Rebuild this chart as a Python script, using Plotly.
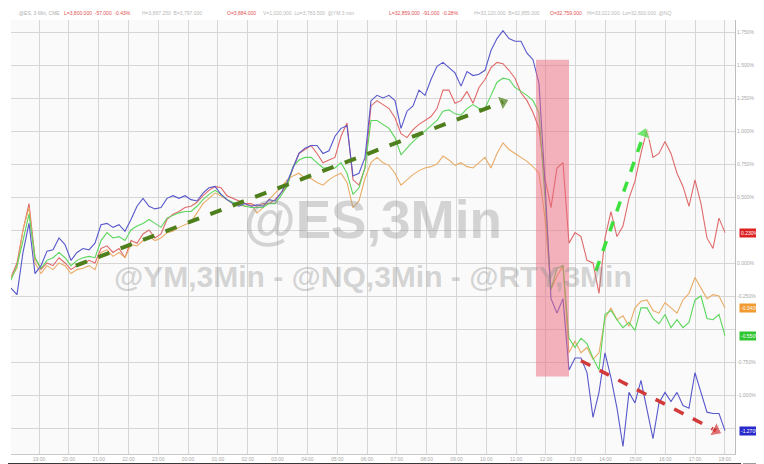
import plotly.graph_objects as go

# ---- data (percent change, 3-min bars) ----
blue = [-0.19,-0.24,0.08,0.30,-0.08,-0.02,0.09,0.10,0.19,0.14,0.02,0.08,0.11,0.10,0.15,0.29,0.30,0.27,0.29,0.24,
        0.33,0.43,0.49,0.43,0.41,0.42,0.49,0.51,0.49,0.51,0.48,0.47,0.53,0.57,0.58,0.52,0.48,0.45,0.43,0.45,
        0.43,0.44,0.43,0.48,0.47,0.53,0.61,0.72,0.83,0.87,0.89,0.89,0.83,0.85,0.96,1.02,1.04,0.66,0.68,0.80,
        1.23,1.27,1.25,1.27,1.23,1.02,1.15,1.19,1.31,1.27,1.39,1.49,1.52,1.48,1.44,1.34,1.45,1.42,1.43,1.46,
        1.61,1.70,1.76,1.70,1.68,1.68,1.59,1.54,1.36,0.61,-0.27,-0.38,-0.27,-0.81,-0.72,-0.72,-0.83,-1.17,-0.98,-0.68,
        -0.87,-1.10,-1.39,-0.98,-1.06,-0.89,-1.10,-1.33,-1.06,-0.98,-1.05,-0.98,-1.08,-1.10,-0.83,-0.98,-1.13,-1.14,-1.14,-1.27]
red = [-0.11,0.00,0.25,0.45,0.04,-0.05,0.00,-0.02,0.04,0.00,-0.05,-0.02,-0.01,0.02,0.00,0.11,0.13,0.08,0.11,0.04,
       0.17,0.15,0.22,0.25,0.19,0.22,0.33,0.37,0.39,0.42,0.43,0.46,0.51,0.55,0.58,0.57,0.51,0.49,0.47,0.45,
       0.45,0.43,0.45,0.45,0.48,0.53,0.58,0.72,0.83,0.86,0.89,0.83,0.76,0.78,0.80,0.96,1.06,0.63,0.59,0.72,
       1.19,1.23,1.20,1.17,1.10,0.98,0.95,1.01,1.05,1.08,1.11,1.17,1.31,1.31,1.21,1.23,1.30,1.21,1.33,1.39,
       1.48,1.52,1.51,1.46,1.40,1.29,1.23,1.14,1.02,0.64,0.42,0.72,0.76,0.15,0.23,0.20,0.02,0.00,-0.23,0.19,
       0.39,0.20,0.28,0.49,0.62,0.83,1.01,0.80,0.83,0.92,0.83,0.68,0.58,0.43,0.63,0.45,0.19,0.11,0.34,0.23]
green = [-0.13,-0.02,0.17,0.37,0.04,-0.04,0.02,0.04,0.08,0.04,-0.02,0.02,0.04,0.05,0.04,0.17,0.23,0.19,0.20,0.17,
         0.25,0.28,0.30,0.33,0.30,0.27,0.34,0.36,0.38,0.39,0.39,0.43,0.48,0.52,0.55,0.52,0.48,0.46,0.45,0.43,
         0.42,0.42,0.42,0.45,0.45,0.51,0.58,0.73,0.78,0.80,0.80,0.76,0.72,0.72,0.72,0.76,0.68,0.52,0.57,0.72,
         1.08,1.08,1.05,1.02,0.95,0.82,0.87,0.92,0.96,1.00,1.04,1.08,1.15,1.16,1.13,1.12,1.17,1.20,1.17,1.17,
         1.27,1.37,1.40,1.39,1.33,1.30,1.27,1.23,1.14,0.49,-0.20,-0.04,-0.02,-0.57,-0.64,-0.57,-0.61,-0.72,-0.81,-0.39,
         -0.36,-0.43,-0.49,-0.45,-0.51,-0.34,-0.34,-0.42,-0.46,-0.39,-0.49,-0.43,-0.49,-0.45,-0.28,-0.25,-0.42,-0.43,-0.39,-0.55]
orange = [-0.11,-0.04,0.25,0.42,0.00,-0.08,-0.02,-0.05,0.00,-0.02,-0.08,-0.05,-0.04,-0.02,-0.05,0.08,0.10,0.05,0.08,0.04,
          0.14,0.13,0.17,0.20,0.17,0.19,0.23,0.24,0.27,0.29,0.31,0.38,0.45,0.49,0.53,0.51,0.48,0.45,0.44,0.43,
          0.44,0.38,0.42,0.48,0.53,0.57,0.63,0.66,0.68,0.64,0.64,0.61,0.59,0.63,0.66,0.68,0.61,0.42,0.47,0.64,
          0.76,0.80,0.76,0.74,0.68,0.59,0.63,0.67,0.70,0.72,0.73,0.75,0.81,0.78,0.74,0.76,0.73,0.72,0.76,0.80,
          0.72,0.83,0.91,0.86,0.83,0.80,0.77,0.73,0.68,0.34,-0.20,-0.10,-0.02,-0.68,-0.59,-0.68,-0.64,-0.73,-0.68,-0.42,
          -0.34,-0.43,-0.40,-0.48,-0.34,-0.29,-0.28,-0.36,-0.38,-0.30,-0.34,-0.38,-0.28,-0.23,-0.11,-0.19,-0.27,-0.24,-0.25,-0.34]

time_labels = ["19:00","20:00","21:00","22:00","23:00","00:00","01:00","02:00","03:00","04:00","05:00","06:00",
               "07:00","08:00","09:00","10:00","11:00","12:00","13:00","14:00","15:00","16:00","17:00","18:00"]

y_ticks = [-1.25, -1.0, -0.75, -0.5, -0.25, 0.0, 0.25, 0.5, 0.75, 1.0, 1.25, 1.5, 1.75]
y_ticks_hidden = [-1.25, -0.5, 0.25]   # covered by the last-value badges

series_names = ["@RTY", "@YM", "@ES", "@NQ"]
series_colors = ["#e06a6a", "#e9ac68", "#5cd65c", "#5858cc"]
badge_colors = ["#dd2222", "#f09a30", "#2ec52e", "#2a2acc"]

# trend arrows (bar index, percent)
arrow_up_long = ([10.8, 82.0], [-0.02, 1.22])
arrow_up_short = ([97.5, 105.5], [-0.06, 0.98])
arrow_down = ([95.0, 117.5], [-0.74, -1.27])

# highlighted crash window (bar index / percent)
band_x = [87.5, 93.0]
band_y = [-0.86, 1.54]

header_parts = [
    ("@ES, 3 Min, CME", "#b0b0b0", 0.008),
    ("L=3,800.000  -57.000  -0.43%", "#e05050", 0.07),
    ("H=3,897.250  B=3,797.000", "#b8b8b8", 0.178),
    ("O=3,884.000", "#e05050", 0.295),
    ("V=1,020,000  Lo=3,783.500  @YM 3 min", "#b8b8b8", 0.345),
    ("L=32,859.000  -91.000  -0.28%", "#e05050", 0.52),
    ("H=33,120.000  B=32,855.000", "#b8b8b8", 0.637),
    ("O=32,759.000", "#e05050", 0.742),
    ("Hi=33,022.000  Lo=32,600.000  @NQ", "#b8b8b8", 0.793),
]

x = list(range(len(blue)))
fig = go.Figure()

for vals, name, col in zip([red, orange, green, blue], series_names, series_colors):
    fig.add_trace(go.Scatter(x=x, y=vals, mode="lines", name=name,
                             line=dict(color=col, width=1.1), hoverinfo="skip"))

for (ax_, ay_), col, w in [(arrow_up_long, "#4f7f1c", 4), (arrow_up_short, "#3ee03e", 3.5), (arrow_down, "#d23a3a", 3.5)]:
    fig.add_trace(go.Scatter(x=ax_, y=ay_, mode="lines+markers",
                             line=dict(color=col, width=w, dash="dash"),
                             marker=dict(symbol=["circle", "triangle-up"], size=[0, 13], color=col,
                                         angleref="previous"),
                             hoverinfo="skip", showlegend=False))

fig.add_shape(type="rect", xref="x", yref="y", x0=band_x[0], x1=band_x[1], y0=band_y[0], y1=band_y[1],
              fillcolor="#e9677b", opacity=0.5, line=dict(width=0), layer="above")

# watermark
fig.add_annotation(text="<b>@ES,3Min</b>", xref="paper", yref="paper", x=0.5, y=0.54, showarrow=False,
                   font=dict(family="Liberation Sans, Arial", size=53, color="rgba(140,140,140,0.36)"))
fig.add_annotation(text="<b>@YM,3Min - @NQ,3Min - @RTY,3Min</b>", xref="paper", yref="paper", x=0.5, y=0.41,
                   showarrow=False,
                   font=dict(family="Liberation Sans, Arial", size=30, color="rgba(140,140,140,0.36)"))

# header line
for txt, col, xp in header_parts:
    fig.add_annotation(text=txt, xref="paper", yref="paper", x=xp, y=1.016, xanchor="left", yanchor="middle",
                       showarrow=False, font=dict(family="Liberation Sans, Arial", size=5, color=col))

# last-value badges
for vals, col in zip([red, orange, green, blue], badge_colors):
    v = vals[-1]
    fig.add_annotation(text=f"{v:.3f}%", xref="paper", yref="y", x=1.0, y=v, xanchor="left", yanchor="middle",
                       xshift=4, showarrow=False, bgcolor=col, borderpad=1,
                       font=dict(family="Liberation Sans, Arial", size=5, color="white"))

# bottom scrollbar strip and right border
fig.add_shape(type="rect", xref="paper", yref="paper", x0=-0.005, x1=1.0083, y0=-0.0369, y1=-0.0207,
              fillcolor="#3a3a3a", line=dict(width=0))
fig.add_shape(type="rect", xref="paper", yref="paper", x0=1.011, x1=1.034, y0=-0.0369, y1=-0.0207,
              fillcolor="#9a9a9a", line=dict(width=0))
fig.add_shape(type="line", xref="paper", yref="paper", x0=1.0442, x1=1.0442, y0=-0.045, y1=1.03,
              line=dict(color="#d0d0d0", width=1))

tickvals = [4.67 + 4.97 * k for k in range(len(time_labels))]
ytext = ["" if t in y_ticks_hidden else f"{t:.3f}%" for t in y_ticks]

fig.update_layout(
    width=764, height=464,
    margin=dict(l=3, r=37, t=12, b=18),
    paper_bgcolor="white", plot_bgcolor="#fafafa",
    showlegend=False,
    xaxis=dict(range=[0, 120.67], tickmode="array", tickvals=tickvals, ticktext=time_labels,
               showgrid=True, gridcolor="#d6d6d6", gridwidth=1, zeroline=False,
               showline=True, linecolor="#c8c8c8", ticks="", ticklen=0,
               tickfont=dict(family="Liberation Sans, Arial", size=5, color="#a8a8a8")),
    yaxis=dict(range=[-1.447, 1.841], side="right", tickmode="array", tickvals=y_ticks, ticktext=ytext,
               showgrid=True, gridcolor="#d6d6d6", gridwidth=1, zeroline=False,
               showline=True, linecolor="#bdbdbd", ticks="",
               tickfont=dict(family="Liberation Sans, Arial", size=5, color="#a8a8a8")),
)

fig.write_html("out.html")
